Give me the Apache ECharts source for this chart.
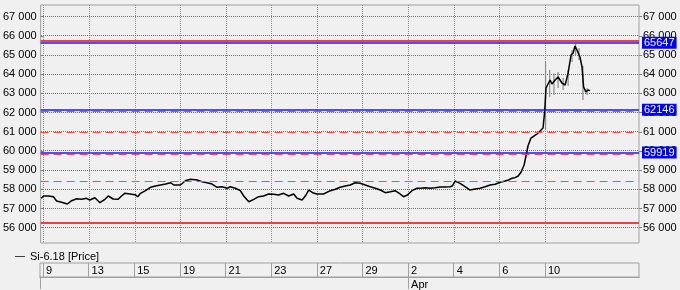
<!DOCTYPE html>
<html>
<head>
<meta charset="utf-8">
<script src="https://cdn.jsdelivr.net/npm/echarts@6/dist/echarts.min.js"></script>
<style>
html,body{margin:0;padding:0;background:#f0f0f0;}
#c{width:680px;height:290px;}
</style>
</head>
<body>
<div id="c"></div>
<script>
// trading-day index (0 = Mar 9) and price
const priceDays = [-0.11,0.00,0.21,0.43,0.57,0.79,1.04,1.23,1.45,1.67,1.88,2.03,2.25,2.47,2.69,2.84,3.05,3.27,3.42,3.56,3.78,4.00,4.13,4.25,4.47,4.69,4.91,5.13,5.35,5.57,5.71,6.00,6.22,6.44,6.74,6.95,7.17,7.39,7.61,7.83,8.05,8.19,8.41,8.63,8.78,9.00,9.22,9.43,9.65,9.87,10.09,10.31,10.53,10.75,10.97,11.12,11.34,11.48,11.63,11.80,11.99,12.28,12.36,12.58,12.80,13.01,13.23,13.45,13.67,13.89,14.11,14.33,14.55,14.77,14.99,15.21,15.42,15.64,15.79,15.96,16.16,16.38,16.52,16.74,16.96,17.18,17.40,17.62,17.84,17.94,18.05,18.27,18.49,18.71,18.93,19.15,19.37,19.59,19.81,20.03,20.25,20.39,20.54,20.68,20.82,20.95,21.08,21.17,21.25,21.38,21.52,21.65,21.78,21.91,21.98,22.04,22.13,22.22,22.30,22.44,22.57,22.74,22.88,23.01,23.14,23.23,23.31,23.40,23.53,23.62,23.69,23.79,23.88,23.97];
const priceValues = [57531,57651,57651,57615,57391,57323,57234,57406,57510,57479,57531,57443,57563,57302,57479,57651,57495,57479,57651,57792,57756,57720,57615,57792,57928,58105,58173,58225,58277,58345,58225,58225,58449,58522,58485,58397,58345,58277,58105,58136,58053,58136,58053,57928,57651,57354,57479,57615,57651,57756,57740,57703,57792,57651,57756,57531,57443,57651,57964,57823,57756,57756,57823,57928,58000,58105,58173,58225,58345,58313,58225,58136,58053,57964,57823,57875,57928,57756,57615,57703,57928,58053,58053,58084,58053,58084,58121,58121,58136,58188,58433,58313,58136,57964,58016,58053,58136,58225,58261,58366,58433,58485,58574,58605,58694,58903,59268,59789,60258,60675,60780,60884,61040,61197,62031,63282,63491,63700,63491,63700,63856,63543,63439,64065,65003,65107,65472,65264,64899,64377,63335,63074,63178,63146];

// high/low ranges of the volatile bars
const wickDays = [22.02,22.20,22.39,22.57,22.79,23.01,23.18,23.34,23.49,23.66,23.84];
const wickLow  = [61093,62829,62917,63282,63178,63387,64638,65003,64742,62657,62917];
const wickHigh = [64654,64221,64049,64117,63804,64221,65264,65603,65368,64430,63282];

// axis ticks
const yTicks = [56000,57000,58000,59000,60000,61000,62000,63000,64000,65000,66000,67000];
const dayTicks = [0,2,4,6,8,10,12,14,16,18,20,22];
const dayLabels = ['9','13','15','19','21','23','27','29','2','4','6','10'];
const monthTicks = [16];
const monthLabels = ['Apr'];

// levels
const redSolid = [65740,56240];
const redDashed = [62080,60980,59826,58433];
const blueLevels = [65647,62146,59919];
const lastPrice = 63146;

const xMin = -0.13, xMax = 26.12;
const yMin = 55201, yMax = 67610;
const FONT = 'Liberation Sans';
const fmtK = v => String(v).replace(/\B(?=(\d{3})+(?!\d))/g, ' ');
const GRID_LINE = {color: '#8a8a8a', type: [1, 1], width: 1};

const markData = [];
redSolid.forEach(v => markData.push({yAxis: v, lineStyle: {color: '#f04040', width: 2, type: 'solid'}, label: {show: false}}));
redDashed.forEach(v => markData.push({yAxis: v, lineStyle: {color: '#f25050', width: 1, type: [8, 5]}, label: {show: false}}));
blueLevels.forEach(v => markData.push({yAxis: v, lineStyle: {color: '#1a1aff', width: 1.5, type: 'solid'},
  label: {show: true, position: 'end', distance: 3, formatter: String(v), color: '#ffffff', backgroundColor: '#0000ff', padding: [1, 2, 0, 2], fontFamily: FONT, fontSize: 11}}));
markData.push({yAxis: lastPrice, lineStyle: {opacity: 0, width: 0}, label: {show: true, position: 'end', distance: 3, formatter: fmtK(lastPrice), color: '#000', backgroundColor: '#f0f0f0', borderColor: '#909090', borderWidth: 1, padding: [1, 2, 0, 2], fontFamily: FONT, fontSize: 11}});

const chart = echarts.init(document.getElementById('c'), null, {renderer: 'canvas'});
const yAxisBase = pos => ({
  type: 'value', gridIndex: 0, position: pos, min: yMin, max: yMax,
  axisLine: {show: false},
  axisTick: {show: true, length: 3, customValues: yTicks, lineStyle: {color: '#808080'}},
  axisLabel: {customValues: yTicks, formatter: fmtK, color: '#000', fontFamily: FONT, fontSize: 11, margin: 4},
  splitLine: {show: false}
});

chart.setOption({
  animation: false,
  backgroundColor: '#f0f0f0',
  textStyle: {fontFamily: FONT},
  legend: {
    left: 10, top: 246, itemWidth: 10, itemHeight: 1, icon: 'rect',
    data: ['Si-6.18 [Price]'],
    textStyle: {fontFamily: FONT, fontSize: 11, color: '#000'},
    itemStyle: {color: '#404040'}
  },
  grid: [
    {left: 40, right: 41, top: 5, height: 238, show: true, borderColor: '#a0a0a0', borderWidth: 1, backgroundColor: 'transparent', z: -1},
    {left: 40, right: 41, top: 263, height: 15, show: true, borderColor: '#a0a0a0', borderWidth: 1, backgroundColor: 'transparent', z: -1}
  ],
  xAxis: [
    {type: 'value', gridIndex: 0, min: xMin, max: xMax,
      axisLine: {show: false}, axisLabel: {show: false},
      axisTick: {show: false, customValues: dayTicks},
      splitLine: {show: true, lineStyle: GRID_LINE}},
    {type: 'value', gridIndex: 1, position: 'top', min: xMin, max: xMax,
      axisLine: {show: true, lineStyle: {color: '#909090'}},
      axisTick: {show: false, customValues: dayTicks},
      axisLabel: {show: true, inside: true, customValues: dayTicks, margin: 2, align: 'left', verticalAlign: 'top', padding: [0, 0, 0, 3],
        formatter: v => dayLabels[dayTicks.indexOf(v)], color: '#000', fontFamily: FONT, fontSize: 11},
      splitLine: {show: true, lineStyle: {color: '#a0a0a0', width: 1, type: 'solid'}}},
    {type: 'value', gridIndex: 1, position: 'bottom', min: xMin, max: xMax,
      axisLine: {show: true, lineStyle: {color: '#a0a0a0'}},
      axisTick: {show: true, customValues: [xMin].concat(monthTicks), length: 12, inside: false, lineStyle: {color: '#a0a0a0'}},
      axisLabel: {show: true, customValues: monthTicks, margin: 2, align: 'left', padding: [0, 0, 0, 3],
        formatter: v => monthLabels[monthTicks.indexOf(v)], color: '#000', fontFamily: FONT, fontSize: 11},
      splitLine: {show: false}}
  ],
  yAxis: [
    yAxisBase('left'),
    yAxisBase('right'),
    {type: 'value', gridIndex: 1, show: false, min: 0, max: 1}
  ],
  series: [
    {
      type: 'custom', name: 'hgrid', xAxisIndex: 0, yAxisIndex: 0, z: 0, silent: true,
      data: yTicks.map(v => [xMin, v]),
      encode: {x: 0, y: 1},
      renderItem: (params, api) => {
        const p = api.coord([xMin, api.value(1)]);
        const q = api.coord([xMax, api.value(1)]);
        const y = Math.round(p[1] - 0.5) + 0.5;
        return {type: 'line', shape: {x1: Math.round(p[0]), y1: y, x2: Math.round(q[0]), y2: y},
          style: {stroke: '#707070', lineWidth: 1, lineDash: [1, 1]}};
      }
    },
    {
      type: 'custom', name: 'wicks', xAxisIndex: 0, yAxisIndex: 0, z: 1, silent: true,
      data: wickDays.map((d, i) => [d, wickLow[i], wickHigh[i]]),
      renderItem: (params, api) => {
        const a = api.coord([api.value(0), api.value(1)]);
        const b = api.coord([api.value(0), api.value(2)]);
        return {type: 'line', shape: {x1: a[0], y1: a[1], x2: b[0], y2: b[1]}, style: {stroke: '#8a8a8a', lineWidth: 1.2}};
      }
    },
    {
      type: 'line', name: 'Si-6.18 [Price]', xAxisIndex: 0, yAxisIndex: 0, z: 3,
      data: priceDays.map((d, i) => [d, priceValues[i]]),
      showSymbol: false, symbol: 'none',
      lineStyle: {color: '#000', width: 1.5},
      itemStyle: {color: '#404040'},
      markLine: {silent: true, symbol: ['none', 'none'], animation: false, data: markData}
    }
  ]
});
</script>
</body>
</html>
